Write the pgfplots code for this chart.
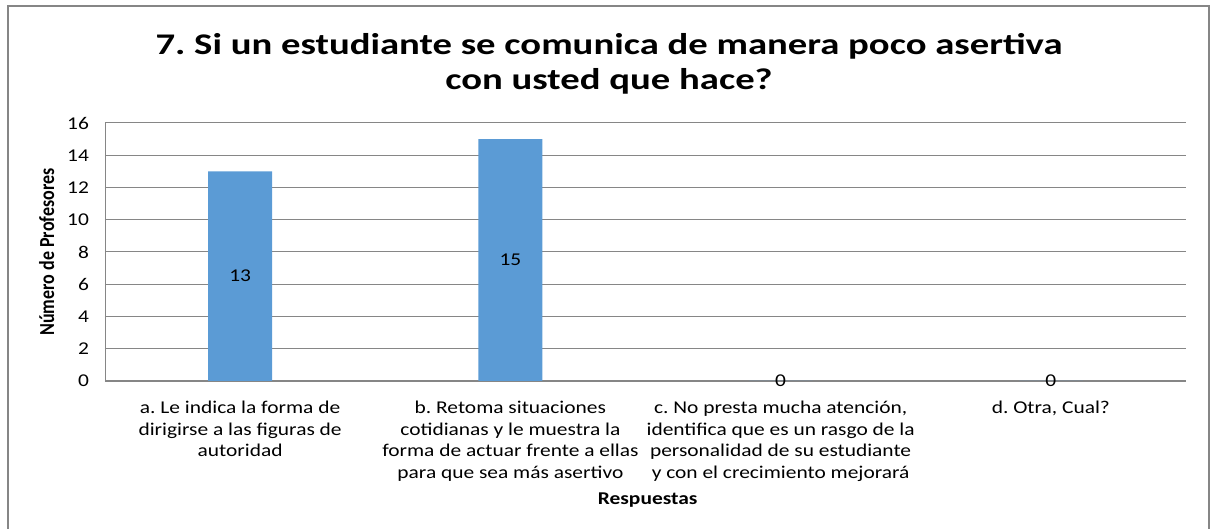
\documentclass[border=0pt]{standalone}
\usepackage{graphicx}
\usepackage{pgfplots}
\pgfplotsset{compat=1.18}
\usepackage{fontspec}
\setmainfont{Carlito}
\newfontfamily\wfont[FakeStretch=1.19]{Carlito}
\newfontfamily\tfont[FakeStretch=1.29]{Carlito}
\definecolor{barblue}{HTML}{5B9BD5}
\definecolor{gridgray}{HTML}{868686}
\frenchspacing
\begin{document}
\begin{tikzpicture}
\path[use as bounding box] (0,0) rectangle (606pt,264.5pt);
\draw[gridgray, line width=0.6pt] (4pt,-5pt) -- (4pt,261.5pt) -- (604.5pt,261.5pt) -- (604.5pt,-5pt);
\node[font=\tfont\fontsize{15}{17.75}\selectfont\bfseries, align=center] at (304.5pt,232.5pt)
  {7. Si un estudiante se comunica de manera poco asertiva\\con usted que hace?};
\begin{axis}[
  at={(52.5pt,74pt)}, anchor=south west,
  scale only axis, width=540.5pt, height=129pt,
  /pgf/number format/assume math mode=true,
  ymin=0, ymax=16, ytick={0,2,...,16},
  xmin=-0.5, xmax=3.5, xtick={0,1,2,3},
  xticklabels={{a. Le indica la forma de\\dirigirse a las figuras de\\autoridad},
               {b. Retoma situaciones\\cotidianas y le muestra la\\forma de actuar frente a ellas\\para que sea más asertivo},
               {c. No presta mucha atención,\\identifica que es un rasgo de la\\personalidad de su estudiante\\y con el crecimiento mejorará},
               {d. Otra, Cual?}},
  xticklabel style={align=center, font=\wfont\fontsize{9}{10.75}\selectfont, anchor=north, yshift=-6.5pt},
  yticklabel style={font=\wfont\fontsize{9}{10.75}\selectfont, xshift=-4.5pt},
  axis x line*=bottom, axis y line*=left,
  axis line style={gridgray, -},
  major tick length=0pt,
  ymajorgrids, grid style={gridgray, line width=0.5pt},
  ylabel={\scalebox{1}[1.19]{Número de Profesores}},
  ylabel style={font=\fontsize{9}{10.75}\selectfont\bfseries, at={(axis description cs:-0.054,0.5)}, anchor=center, rotate=0},
  xlabel={Respuestas},
  xlabel style={font=\wfont\fontsize{9}{10.75}\selectfont\bfseries, at={(axis description cs:0.502,-0.46)}, anchor=center},
  clip=false,
]
\addplot[ybar, bar width=32pt, fill=barblue, draw=none] coordinates {(0,13) (1,15) (2,0) (3,0)};
\addplot[draw=none, mark=none, point meta=explicit, nodes near coords, nodes near coords align={center},
  every node near coord/.append style={font=\wfont\fontsize{9}{10.75}\selectfont, anchor=center}]
  coordinates {(0,6.5) [13] (1,7.5) [15] (2,0) [0] (3,0) [0]};
\end{axis}
\end{tikzpicture}
\end{document}
